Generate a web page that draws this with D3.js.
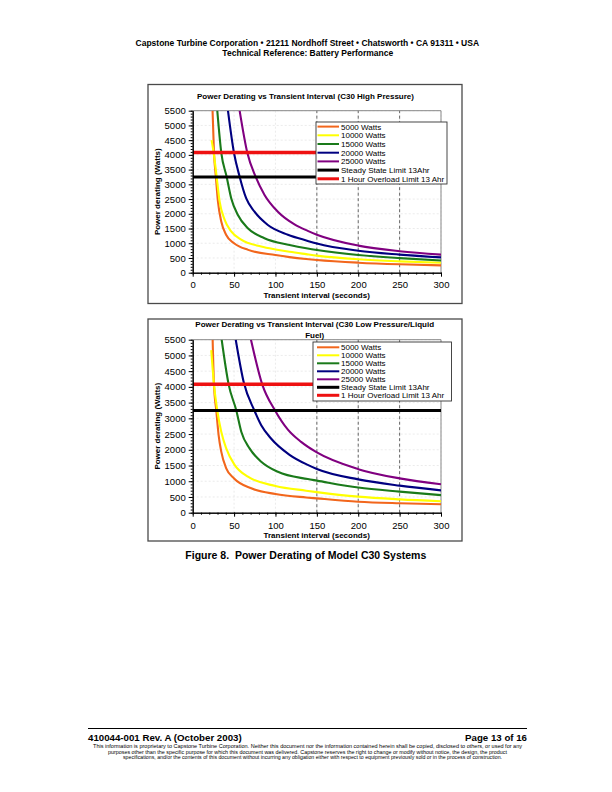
<!DOCTYPE html>
<html><head><meta charset="utf-8">
<script src="https://cdn.jsdelivr.net/npm/d3@7"></script>
<style>body{margin:0;background:#fff;} svg{display:block;font-family:"Liberation Sans",Arial,Helvetica,sans-serif;}</style>
</head><body><svg id="page" width="612" height="792"></svg>
<script>
// ---------- data ----------
const xTicks = [0, 50, 100, 150, 200, 250, 300];
const yTicks = [0, 500, 1000, 1500, 2000, 2500, 3000, 3500, 4000, 4500, 5000, 5500];
const seriesNames = ["5000 Watts", "10000 Watts", "15000 Watts", "20000 Watts", "25000 Watts"];
const limitNames = ["Steady State Limit 13Ahr", "1 Hour Overload Limit 13 Ahr"];
const limitValues = [3250, 4080];

// Chart 1: C30 High Pressure  [transient interval s, power derating W]
const hp5000 = [[24,5500],[25.7,4080],[28,3260],[30.5,2420],[34.5,1740],[40.5,1280],[50,1000],[67,775],[100,600],[117,530],[137,465],[150,430],[200,340],[250,285],[300,250]];
const hp10000 = [[22.8,4500],[25.3,4080],[28.9,3260],[32.5,2420],[38.5,1800],[46.5,1400],[58.6,1120],[82.7,890],[100,790],[117,710],[137,630],[150,580],[200,455],[250,385],[300,340]];
const hp15000 = [[29.7,5500],[34.5,4080],[41,3260],[46.6,2520],[54.6,1960],[66.6,1510],[86.7,1170],[117,940],[139,820],[150,770],[200,600],[250,495],[300,415]];
const hp20000 = [[42.6,5500],[49.8,4080],[56.7,3260],[64.7,2520],[74.7,2070],[90.8,1620],[115,1290],[139,1080],[150,990],[200,745],[250,615],[300,520]];
const hp25000 = [[56.7,5500],[65.9,4080],[76,3260],[86.8,2640],[102.9,2070],[123,1640],[139,1420],[150,1290],[200,920],[250,730],[300,615]];

// Chart 2: C30 Low Pressure / Liquid Fuel
const lp5000 = [[24.1,5500],[25.7,4080],[28.5,3250],[31.3,2470],[34.5,1940],[40.5,1410],[50,1090],[70.7,775],[100,595],[137,485],[150,455],[200,350],[250,300],[300,267]];
const lp10000 = [[22.4,5170],[25.7,4080],[29.7,3250],[34.5,2575],[40.5,2045],[50.6,1520],[66.7,1145],[100,850],[137,700],[150,655],[200,510],[250,425],[300,365]];
const lp15000 = [[35,5500],[43.4,4080],[52.7,3250],[58.7,2575],[68.7,2045],[82.8,1620],[102.9,1300],[139,1070],[150,1020],[200,800],[250,670],[300,560]];
const lp20000 = [[52,5500],[61.9,4120],[74.5,3250],[82.8,2780],[94.9,2350],[117,1840],[139,1520],[150,1390],[200,1060],[250,860],[300,710]];
const lp25000 = [[70.4,5500],[84,4080],[99.5,3250],[115,2640],[131,2250],[150,1915],[200,1385],[250,1092],[300,905]];

// ---------- styles ----------
const seriesColors = ["#F2661C", "#FFFF00", "#1A7A1A", "#000080", "#800080"];
const limitColors = ["#000000", "#EE1111"];

const svg = d3.select("#page");
const font = '"Liberation Sans",Arial,Helvetica,sans-serif';

function txt(x, y, s, size, opts = {}) {
  const t = svg.append("text").attr("x", x).attr("y", y).text(s)
    .attr("font-size", size).attr("font-weight", opts.bold ? "bold" : "normal")
    .attr("text-anchor", opts.anchor || "middle").attr("fill", "#000")
    .style("white-space", "pre");
  if (opts.len) t.attr("textLength", opts.len).attr("lengthAdjust", "spacingAndGlyphs");
  return t;
}

// header
txt(307.3, 46.4, "Capstone Turbine Corporation \u2022 21211 Nordhoff Street \u2022 Chatsworth \u2022 CA 91311 \u2022 USA", 8.5, {bold: true});
txt(307.8, 56.4, "Technical Reference: Battery Performance", 8.5, {bold: true});

function drawChart(o, seriesData, titleLines) {
  const x = d3.scaleLinear().domain([0, 300]).range([o.left, o.right]);
  const y = d3.scaleLinear().domain([0, 5500]).range([o.bottom, o.top]);
  const g = svg.append("g");
  // outer frame
  g.append("rect").attr("x", o.fx).attr("y", o.fy).attr("width", o.fw).attr("height", o.fh)
    .attr("fill", "#fff").attr("stroke", "#4a4a4a").attr("stroke-width", 1.3);
  // faint gridlines
  yTicks.forEach(v => g.append("line").attr("x1", x(0)).attr("x2", x(300)).attr("y1", y(v)).attr("y2", y(v))
    .attr("stroke", "#e2e2e2").attr("stroke-width", 0.7).attr("stroke-dasharray", "2,2"));
  xTicks.forEach(v => g.append("line").attr("x1", x(v)).attr("x2", x(v)).attr("y1", y(0)).attr("y2", y(5500))
    .attr("stroke", "#e2e2e2").attr("stroke-width", 0.7).attr("stroke-dasharray", "2,2"));
  // darker dashed gridlines
  [150, 200, 250].forEach(v => g.append("line").attr("x1", x(v)).attr("x2", x(v)).attr("y1", y(0)).attr("y2", y(5500))
    .attr("stroke", "#555").attr("stroke-width", 0.9).attr("stroke-dasharray", "3,2.5"));
  // plot border (top/right)
  g.append("path").attr("d", `M${x(0)},${y(5500)}H${x(300)}V${y(0)}`).attr("fill", "none")
    .attr("stroke", "#888").attr("stroke-width", 1);
  // clip
  const cid = "clip" + o.id;
  svg.append("clipPath").attr("id", cid).append("rect")
    .attr("x", x(0)).attr("y", y(5500)).attr("width", x(300) - x(0)).attr("height", y(0) - y(5500));
  const line = d3.line().x(d => x(d[0])).y(d => y(d[1])).curve(d3.curveMonotoneX);
  const cg = g.append("g").attr("clip-path", `url(#${cid})`);
  seriesData.forEach((s, i) => cg.append("path").attr("d", line(s)).attr("fill", "none")
    .attr("stroke", seriesColors[i]).attr("stroke-width", 2.1));
  limitValues.forEach((v, i) => cg.append("line").attr("x1", x(0)).attr("x2", x(300)).attr("y1", y(v)).attr("y2", y(v))
    .attr("stroke", limitColors[i]).attr("stroke-width", i === 0 ? 3 : 3.5));
  // axes
  g.append("g").attr("transform", `translate(${x(0)},0)`)
    .call(d3.axisLeft(y).tickValues(yTicks).tickSize(4).tickSizeOuter(0).tickPadding(3).tickFormat(d3.format("d")));
  g.append("g").attr("transform", `translate(${x(0)},0)`)
    .call(d3.axisLeft(y).tickValues(d3.range(0, 5501, 100)).tickSize(2).tickSizeOuter(0).tickFormat(""));
  g.append("g").attr("transform", `translate(0,${y(0)})`)
    .call(d3.axisBottom(x).tickValues(xTicks).tickSize(4).tickSizeOuter(0).tickPadding(o.xpad).tickFormat(d3.format("d")));
  g.append("g").attr("transform", `translate(0,${y(0)})`)
    .call(d3.axisBottom(x).tickValues(d3.range(0, 301, 10)).tickSize(2).tickSizeOuter(0).tickFormat(""));
  g.selectAll(".domain").attr("stroke", "#000");
  g.selectAll(".tick line").attr("stroke", "#000");
  g.selectAll(".tick text").attr("font-size", 9.5).attr("font-family", font).attr("fill", "#000");
  // legend
  const L = o.legend;
  g.append("rect").attr("x", L.x).attr("y", L.y).attr("width", L.w).attr("height", L.h)
    .attr("fill", "#fff").attr("stroke", "#333").attr("stroke-width", 0.9);
  const names = seriesNames.concat(limitNames);
  const cols = seriesColors.concat(limitColors);
  names.forEach((n, i) => {
    const yy = L.r0 + i * L.dr;
    g.append("line").attr("x1", L.s1).attr("x2", L.s2).attr("y1", yy).attr("y2", yy)
      .attr("stroke", cols[i]).attr("stroke-width", i < 5 ? 2 : 3);
    g.append("text").attr("x", L.tx).attr("y", yy + 2.9).text(n).attr("font-size", 8).attr("fill", "#000");
  });
  // titles
  titleLines.forEach((t, i) => txt(o.tcx, o.ty + i * 11, t, 8, {bold: true}));
  txt(316.7, o.xty, "Transient interval (seconds)", 8, {bold: true});
  svg.append("text").attr("transform", `translate(159.6,${(o.top + o.bottom) / 2}) rotate(-90)`)
    .attr("text-anchor", "middle").attr("font-size", 8).attr("font-weight", "bold").text("Power derating (Watts)");
}

drawChart({id: 1, left: 192.7, right: 441, top: 110.7, bottom: 272.7,
  fx: 148, fy: 84.5, fw: 314, fh: 219, xpad: 5, tcx: 305.5, ty: 98.5, xty: 298,
  legend: {x: 316, y: 122, w: 131, h: 62, r0: 126.6, dr: 8.7, s1: 317.5, s2: 339, tx: 341}},
  [hp5000, hp10000, hp15000, hp20000, hp25000],
  ["Power Derating vs Transient Interval (C30 High Pressure)"]);

drawChart({id: 2, left: 192.7, right: 441, top: 339.7, bottom: 512.7,
  fx: 148, fy: 319, fw: 314, fh: 222, xpad: 6, tcx: 314.7, ty: 327.4, xty: 538,
  legend: {x: 313, y: 342, w: 138.5, h: 59, r0: 347.3, dr: 8.0, s1: 317, s2: 339.3, tx: 341}},
  [lp5000, lp10000, lp15000, lp20000, lp25000],
  ["Power Derating vs Transient Interval (C30 Low Pressure/Liquid", "Fuel)"]);

// caption
txt(305.8, 559, "Figure 8.  Power Derating of Model C30 Systems", 10.5, {bold: true});

// footer
svg.append("line").attr("x1", 88).attr("x2", 527).attr("y1", 728.5).attr("y2", 728.5).attr("stroke", "#000").attr("stroke-width", 1);
txt(88, 740.5, "410044-001 Rev. A (October 2003)", 9.7, {bold: true, anchor: "start"});
txt(527, 740.5, "Page 13 of 16", 9.7, {bold: true, anchor: "end"});
txt(307.5, 748, "This information is proprietary to Capstone Turbine Corporation. Neither this document nor the information contained herein shall be copied, disclosed to others, or used for any", 5.3, {len: 429});
txt(307.5, 753.6, "purposes other than the specific purpose for which this document was delivered. Capstone reserves the right to change or modify without notice, the design, the product", 5.3, {len: 399});
txt(312.5, 759.2, "specifications, and/or the contents of this document without incurring any obligation either with respect to equipment previously sold or in the process of construction.", 5.3, {len: 379});
</script>
</body></html>
